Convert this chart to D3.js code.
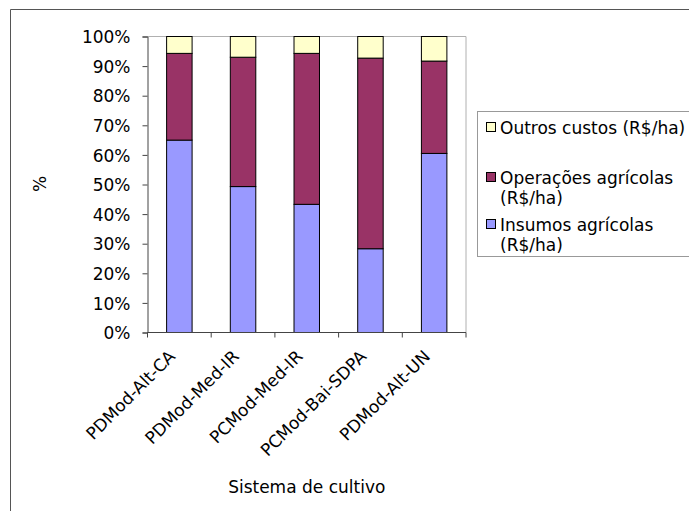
<!DOCTYPE html>
<html>
<head>
<meta charset="utf-8">
<script src="https://cdn.jsdelivr.net/npm/d3@7"></script>
<style>
  html, body { margin: 0; padding: 0; background: #fff; }
  svg { display: block; }
  text { font-family: "DejaVu Sans", Verdana, sans-serif; font-size: 17px; fill: #000; }
</style>
</head>
<body>
<svg id="chart" width="689" height="511"></svg>
<script>
// Cost composition (% of total) per cropping system
const categories = ["PDMod-Alt-CA", "PDMod-Med-IR", "PCMod-Med-IR", "PCMod-Bai-SDPA", "PDMod-Alt-UN"];
const insumos    = [65.0, 49.3, 43.3, 28.3, 60.5];
const operacoes  = [29.3, 43.7, 51.0, 64.4, 31.2];
const outros     = [5.7, 7.0, 5.7, 7.3, 8.3];
const yTicks     = [0, 10, 20, 30, 40, 50, 60, 70, 80, 90, 100];

const seriesKeys   = ["insumos", "operacoes", "outros"];
const seriesColors = { insumos: "#9999FF", operacoes: "#993366", outros: "#FFFFCC" };
const legendItems  = [
  { key: "outros",    lines: ["Outros custos (R$/ha)"] },
  { key: "operacoes", lines: ["Operações agrícolas", "(R$/ha)"] },
  { key: "insumos",   lines: ["Insumos agrícolas", "(R$/ha)"] }
];

const rows = categories.map((c, i) => ({ cat: c, insumos: insumos[i], operacoes: operacoes[i], outros: outros[i] }));

const svg = d3.select("#chart");

// outer chart frame (only top and left edges fall inside the page)
svg.append("path").attr("d", "M10.5,511 V9.5 H689").attr("fill", "none").attr("stroke", "#555").attr("stroke-width", 1);

const plot = { left: 147.5, right: 466, top: 36.5, bottom: 332.5 };

const x = d3.scaleBand().domain(categories).range([plot.left, plot.right]).paddingInner(0.6).paddingOuter(0.3);
const y = d3.scaleLinear().domain([0, 100]).range([plot.bottom, plot.top]);

// plot-area border (top and right)
svg.append("path")
  .attr("d", `M${plot.left},${plot.top} H${plot.right} V${plot.bottom}`)
  .attr("fill", "none").attr("stroke", "#b0b0b0").attr("stroke-width", 1);

// stacked bars
const stacked = d3.stack().keys(seriesKeys)(rows);
svg.append("g").selectAll("g").data(stacked).join("g")
  .attr("fill", d => seriesColors[d.key])
  .selectAll("rect").data(d => d).join("rect")
  .attr("x", d => x(d.data.cat))
  .attr("width", x.bandwidth())
  .attr("y", d => y(d[1]))
  .attr("height", d => y(d[0]) - y(d[1]))
  .attr("stroke", "#000").attr("stroke-width", 1);

// y axis
const yAxis = d3.axisLeft(y).tickValues(yTicks).tickFormat(d => d + "%").tickSize(5).tickPadding(12);
const gy = svg.append("g").attr("transform", `translate(${plot.left},0)`).call(yAxis);
gy.select(".domain").attr("stroke", "#444");
gy.selectAll(".tick line").attr("stroke", "#444");
gy.selectAll("text").attr("font-size", null).attr("font-family", null).attr("dy", "0.36em");

// x axis: ticks on category boundaries
const bounds = d3.range(categories.length + 1).map(i => plot.left + i * (plot.right - plot.left) / categories.length);
const gx = svg.append("g");
gx.append("line").attr("x1", plot.left).attr("x2", plot.right).attr("y1", plot.bottom).attr("y2", plot.bottom).attr("stroke", "#444");
gx.selectAll("line.tk").data(bounds).join("line").attr("class", "tk")
  .attr("x1", d => d).attr("x2", d => d).attr("y1", plot.bottom).attr("y2", plot.bottom + 5).attr("stroke", "#444");

gx.selectAll("text").data(categories).join("text")
  .attr("transform", d => `translate(${x(d) + x.bandwidth() / 2 - 3},${plot.bottom + 25}) rotate(-45)`)
  .attr("text-anchor", "end")
  .text(d => d);

// axis titles
svg.append("text").attr("x", (plot.left + plot.right) / 2).attr("y", 493).attr("text-anchor", "middle").text("Sistema de cultivo");
svg.append("text").attr("transform", `translate(46,184) rotate(-90)`).attr("text-anchor", "middle").text("%");

// legend
const lg = svg.append("g");
lg.append("rect").attr("x", 477.5).attr("y", 111.5).attr("width", 230).attr("height", 145)
  .attr("fill", "#fff").attr("stroke", "#999");
const rowY = [134, 184, 231];
legendItems.forEach((it, i) => {
  lg.append("rect").attr("x", 486.5).attr("y", rowY[i] - 11.5).attr("width", 9).attr("height", 9)
    .attr("fill", seriesColors[it.key]).attr("stroke", "#000");
  it.lines.forEach((ln, j) => {
    lg.append("text").attr("x", 500).attr("y", rowY[i] + j * 20).text(ln);
  });
});
</script>
</body>
</html>
